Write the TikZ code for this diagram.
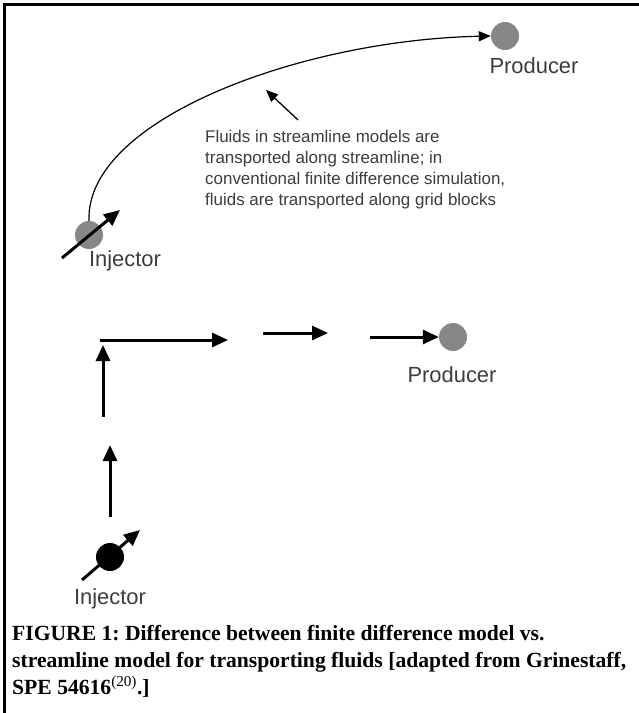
\documentclass[tikz,border=0pt]{standalone}
\usepackage{fontspec}
\setmainfont{Liberation Serif}
\setsansfont{Liberation Sans}
\usepackage{xcolor}
\definecolor{wellgray}{RGB}{135,135,135}
\definecolor{labelgray}{RGB}{60,60,60}
\usetikzlibrary{arrows.meta}
\frenchspacing
\tikzset{
	well/.style={circle, minimum size=28bp, inner sep=0pt},
	flow/.style={line width=3bp, -{Triangle[length=16bp,width=14bp]}},
	streamline/.style={line width=1.2bp, -{Triangle[length=12bp,width=10bp]}},
	lbl/.style={font=\sffamily\fontsize{22}{26}\selectfont, text=labelgray, inner sep=0pt, anchor=base},
	note/.style={font=\sffamily\fontsize{17}{21}\selectfont, text=labelgray, inner sep=0pt, align=left, anchor=north west},
	caption/.style={font=\rmfamily\bfseries\fontsize{21.7}{27}\selectfont, inner sep=0pt, align=left, anchor=north west}
}

\begin{document}
\begin{tikzpicture}[x=1bp, y=-1bp]
	\useasboundingbox (0,0) rectangle (639,713);
	
	% frame
	\draw[line width=3bp] (639,5) -- (4,5) -- (4,713);
	
	% streamline model
	\node[well, fill=wellgray] (prodA) at (505,36) {};
	\node[lbl] (prodAlbl) at (534,74) {Producer};
	\node[well, fill=wellgray] (injA) at (89,235) {};
	\node[lbl] (injAlbl) at (125,266) {Injector};
	\coordinate (injAtail) at (62,258);
	\coordinate (injAtip) at (120,210);
	\draw[flow] (injAtail) -- (injAtip);
	\draw[streamline] (injA.north) .. controls (85,120) and (300,40) .. (prodA.west);
	
	% note
	\node[note] (note) at (205,130) {Fluids in streamline models are\\
		transported along streamline; in\\
		conventional finite difference simulation,\\
		fluids are transported along grid blocks};
	\coordinate (ptrtail) at (298,120);
	\coordinate (ptrtip) at (266,90);
	\draw[streamline, line width=1.3bp] (ptrtail) -- (ptrtip);
	
	% finite difference model
	\node[well, fill=wellgray] (prodB) at (453,337) {};
	\node[lbl] (prodBlbl) at (452,382) {Producer};
	\node[well, fill=black] (injB) at (110,557) {};
	\node[lbl] (injBlbl) at (110,604) {Injector};
	\coordinate (injBtail) at (82,580);
	\coordinate (injBtip) at (140,530);
	\draw[flow] (injBtail) -- (injBtip);
	
	% grid block steps
	\coordinate (v1s) at (110,517);
	\coordinate (v1e) at (110,445);
	\coordinate (v2s) at (103,417);
	\coordinate (v2e) at (103,345);
	\coordinate (h1s) at (100,340);
	\coordinate (h1e) at (228,340);
	\coordinate (h2s) at (263,333);
	\coordinate (h2e) at (328,333);
	\coordinate (h3s) at (370,337);
	\draw[flow] (v1s) -- (v1e);
	\draw[flow] (v2s) -- (v2e);
	\draw[flow] (h1s) -- (h1e);
	\draw[flow] (h2s) -- (h2e);
	\draw[flow] (h3s) -- (prodB.west);
	
	% caption
	\node[caption] (cap) at (12,625) {FIGURE 1: Difference between finite difference model vs.\\
		streamline model for transporting fluids [adapted from Grinestaff,\\
		SPE 54616\textsuperscript{\mdseries(20)}.]};
\end{tikzpicture}
\end{document}
